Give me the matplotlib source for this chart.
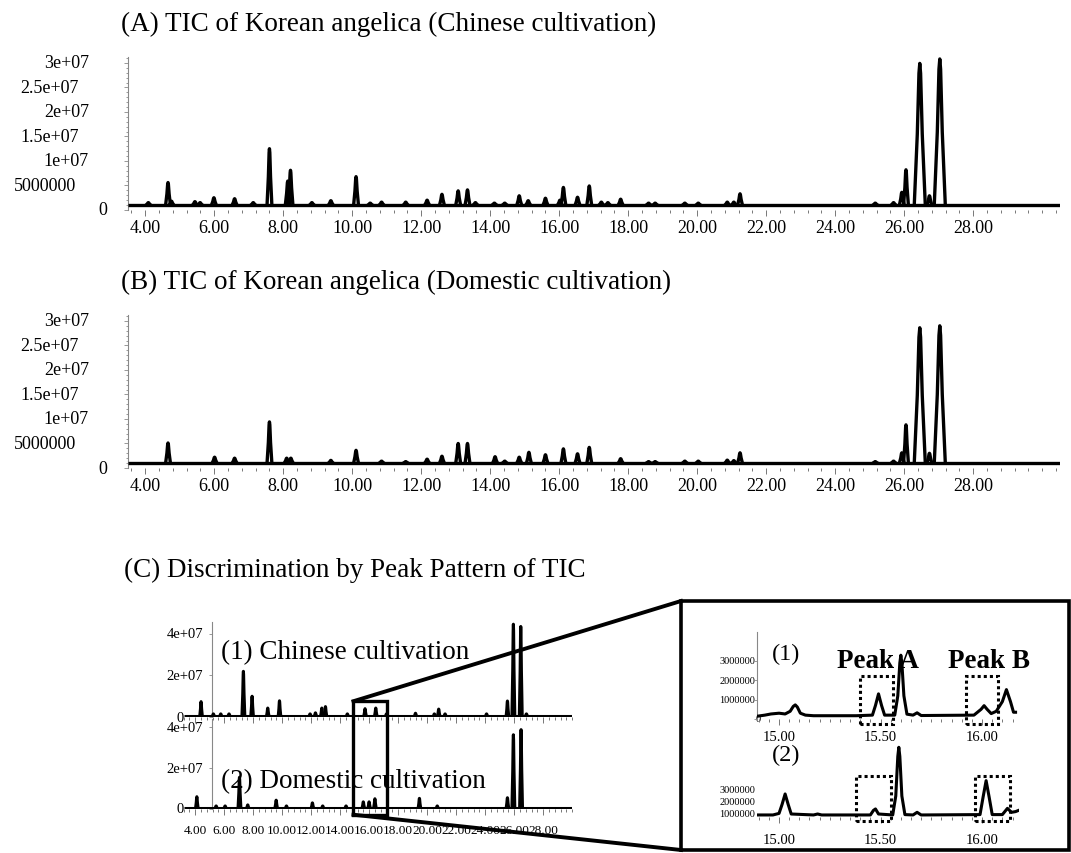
#!/usr/bin/env python
# TIC comparison of Korean angelica, Chinese vs domestic cultivation

import matplotlib
matplotlib.use("Agg")
from matplotlib import pyplot as plt
from matplotlib import transforms
from matplotlib.ticker import FixedLocator, MultipleLocator
from matplotlib.patches import Rectangle
from matplotlib.lines import Line2D

plt.rcParams['font.family'] = ['Liberation Serif', 'DejaVu Serif']

W, H = 1071, 854

# run windows (min)
RUN_AB = (3.5, 30.5)
RUN_C = (3.2, 30.0)

# (A) Chinese cultivation: retention time (min), height (x1e6 counts)
chn_rt = [4.09, 4.66, 4.76, 5.44, 5.59, 5.99, 6.59, 7.13, 7.60, 8.13, 8.21, 8.83, 9.38,
          10.11, 10.52, 10.85, 11.55, 12.17, 12.60, 13.07, 13.34, 13.57, 14.12, 14.42,
          14.84, 15.10, 15.60, 16.02, 16.12, 16.53, 16.87, 17.22, 17.41, 17.78, 18.59,
          18.78, 19.64, 20.03, 20.87, 21.06, 21.24, 25.16, 25.69, 25.93, 26.05, 26.45,
          26.73, 27.03]
chn_h = [1.5, 5.6, 1.8, 1.7, 1.5, 2.5, 2.3, 1.5, 12.5, 5.9, 8.1, 1.5, 1.9,
         6.8, 1.4, 1.6, 1.6, 2.0, 3.2, 3.9, 4.1, 1.5, 1.4, 1.4,
         2.9, 1.9, 2.4, 2.0, 4.6, 2.6, 4.9, 1.6, 1.5, 2.2, 1.4,
         1.4, 1.4, 1.4, 1.6, 1.6, 3.3, 1.4, 1.5, 3.6, 8.2, 29.9,
         2.9, 30.8]
chn_base = 1.0

# (B) Domestic cultivation
dom_rt = [4.66, 6.01, 6.59, 7.60, 8.10, 8.22, 9.38, 10.11, 10.85, 11.55, 12.17, 12.60,
          13.07, 13.34, 14.14, 14.42, 14.84, 15.12, 15.60, 16.12, 16.53, 16.87, 17.78,
          18.59, 18.78, 19.64, 20.03, 20.87, 21.06, 21.24, 25.16, 25.69, 25.93, 26.05,
          26.45, 26.73, 27.03]
dom_h = [5.1, 2.2, 2.0, 9.4, 2.0, 2.0, 1.55, 3.6, 1.4, 1.3, 1.8, 2.4,
         5.0, 5.0, 2.3, 1.4, 2.2, 3.2, 2.7, 3.9, 2.9, 4.2, 1.9,
         1.3, 1.3, 1.4, 1.4, 1.6, 1.5, 3.1, 1.3, 1.4, 3.1, 8.8,
         28.6, 3.0, 29.0]
dom_base = 1.0

# (C) overview traces
c1_rt = [4.41, 5.26, 5.77, 6.34, 7.33, 7.93, 9.01, 9.82, 11.93, 12.30, 12.74, 12.99,
         14.50, 15.72, 16.46, 17.20, 19.20, 20.50, 20.80, 21.24, 24.10, 25.54, 25.95,
         26.46, 26.85]
c1_h = [7.4, 1.5, 1.5, 1.5, 22.0, 10.0, 4.3, 7.8, 1.5, 2.0, 4.3, 5.0,
        1.5, 4.0, 4.3, 1.5, 1.8, 1.5, 3.8, 1.5, 1.5, 7.7, 44.7,
        43.6, 1.5]
c2_rt = [4.12, 5.45, 6.07, 7.06, 7.63, 9.59, 10.30, 12.09, 12.80, 14.41, 15.60, 16.00,
         16.40, 19.47, 20.70, 25.54, 25.95, 26.48]
c2_h = [6.0, 1.5, 1.5, 15.5, 2.0, 4.3, 1.5, 3.0, 1.5, 1.5, 3.5, 3.5,
        5.0, 5.2, 1.5, 5.5, 36.3, 38.8]
c_base = 0.3

# (C) enlarged 14.9-16.2 min (x1e6 counts)
ins1_t = [14.89, 14.93, 14.96, 15.00, 15.03, 15.055, 15.07, 15.08, 15.09, 15.105, 15.13,
          15.17, 15.38, 15.46, 15.475, 15.49, 15.505, 15.52, 15.57, 15.585, 15.595, 15.60,
          15.605, 15.615, 15.63, 15.66, 15.68, 15.70, 15.96, 15.995, 16.01, 16.025, 16.045,
          16.07, 16.10, 16.12, 16.14, 16.155, 16.165]
ins1_i = [0.14, 0.20, 0.26, 0.30, 0.26, 0.40, 0.65, 0.73, 0.62, 0.30, 0.20,
          0.17, 0.17, 0.20, 0.70, 1.30, 0.70, 0.20, 0.20, 1.20, 2.90, 3.30,
          2.90, 1.20, 0.25, 0.20, 0.32, 0.18, 0.20, 0.50, 0.69, 0.50, 0.28,
          0.40, 0.90, 1.52, 0.90, 0.35, 0.35]
ins2_t = [14.89, 14.97, 15.00, 15.015, 15.03, 15.045, 15.06, 15.17, 15.19, 15.21, 15.45,
          15.465, 15.475, 15.49, 15.56, 15.575, 15.585, 15.59, 15.595, 15.605, 15.62,
          15.66, 15.68, 15.70, 15.99, 16.005, 16.02, 16.035, 16.05, 16.10, 16.125, 16.145,
          16.165, 16.18]
ins2_i = [0.92, 0.92, 1.05, 1.80, 2.67, 1.80, 1.00, 0.92, 1.00, 0.92, 0.92,
          1.30, 1.42, 1.00, 0.92, 2.50, 5.80, 6.56, 5.80, 2.50, 0.95,
          0.92, 1.14, 0.92, 0.95, 2.40, 3.78, 2.40, 0.95, 0.95, 1.47, 1.14,
          1.20, 1.30]

zoom_window = (14.92, 17.21)
peak_a_1, peak_b_1 = (15.40, 15.563), (15.92, 16.08)
peak_a_2, peak_b_2 = (15.38, 15.55), (15.965, 16.14)

main_xticks = [4, 6, 8, 10, 12, 14, 16, 18, 20, 22, 24, 26, 28]
ab_yticks = [3e7, 2.5e7, 2e7, 1.5e7, 1e7, 5e6, 0]
ab_ylabels = ["3e+07", "2.5e+07", "2e+07", "1.5e+07", "1e+07", "5000000", "0"]
c_yticks = [4e7, 2e7, 0]
c_ylabels = ["4e+07", "2e+07", "0"]
ins_yticks = [3e6, 2e6, 1e6, 0]
ins_ylabels = ["3000000", "2000000", "1000000", "0"]
ins_xticks = [15.0, 15.5, 16.0]

# peak shape (fraction of half base width, fraction of height)
PROF_X = [-1, -0.45, -0.15, 0, 0.15, 0.45, 1]
PROF_Y = [0, 0.5, 0.93, 1, 0.93, 0.5, 0]


def px_axes(fig, left, top, right, bottom):
	return fig.add_axes([left / W, 1 - bottom / H, (right - left) / W, (bottom - top) / H])


def draw_trace(ax, rt, h, base, run, w_small, w_big, lw):
	ax.plot(run, [base * 1e6, base * 1e6], color="black", lw=lw, zorder=3,
			solid_capstyle="butt")
	for t, hh in zip(rt, h):
		w = w_big if hh > 15 else w_small
		xs = [t + w * p for p in PROF_X]
		ys = [(base + (hh - base) * q) * 1e6 for q in PROF_Y]
		ax.plot(xs, ys, color="black", lw=lw, zorder=3,
				solid_joinstyle="round", solid_capstyle="round")


def ylabels(fig, ax, vals, texts, rights, size):
	tr = transforms.blended_transform_factory(fig.transFigure, ax.transData)
	for v, s, r in zip(vals, texts, rights):
		ax.text(r / W, v, s, transform=tr, ha="right", va="center",
				fontsize=size, clip_on=False, zorder=1)


def style_axes(ax, left_spine=True):
	for s in ["top", "right", "bottom"]:
		ax.spines[s].set_visible(False)
	ax.spines["left"].set_visible(left_spine)
	ax.spines["left"].set_color("#888888")
	ax.spines["left"].set_linewidth(0.8)
	ax.patch.set_visible(False)
	ax.tick_params(axis="y", which="both", labelleft=False, color="#888888", width=0.6)
	ax.tick_params(axis="x", which="both", color="#777777", width=0.7)


fig = plt.figure(figsize=(W / 100.0, H / 100.0), dpi=100)

# ---- (A) and (B)
for (top, bottom), rt, hh, base, title, ty in [
		((58, 211), chn_rt, chn_h, chn_base,
		 "(A) TIC of Korean angelica (Chinese cultivation)", 24),
		((316, 469), dom_rt, dom_h, dom_base,
		 "(B) TIC of Korean angelica (Domestic cultivation)", 282)]:
	ax = px_axes(fig, 128, top, 1059.5, bottom)
	ax.set_xlim(*RUN_AB)
	ax.set_ylim(0, 3.12e7)
	draw_trace(ax, rt, hh, base, RUN_AB, 0.07, 0.16, 2.4)
	style_axes(ax)
	ax.xaxis.set_major_locator(FixedLocator(main_xticks))
	ax.xaxis.set_minor_locator(MultipleLocator(0.4))
	ax.set_xticklabels(["%.2f" % v for v in main_xticks], fontsize=13)
	ax.tick_params(axis="x", which="major", length=4.5, pad=2)
	ax.tick_params(axis="x", which="minor", length=2.5)
	ax.yaxis.set_major_locator(MultipleLocator(5e6))
	ax.yaxis.set_minor_locator(MultipleLocator(1e6))
	ax.tick_params(axis="y", which="major", length=3)
	ax.tick_params(axis="y", which="minor", length=1.8)
	ylabels(fig, ax, ab_yticks, ab_ylabels, [89, 78.5, 89, 78.5, 89, 76, 107], 13)
	fig.text(121 / W, 1 - ty / H, title, fontsize=19.5, va="center", ha="left")

# ---- (C)
fig.text(124 / W, 1 - 570 / H, "(C) Discrimination by Peak Pattern of TIC",
		 fontsize=19.5, va="center", ha="left")

c_axes = []
for (top, bottom), rt, hh, ymax, last in [((622.5, 718), c1_rt, c1_h, 4.6e7, False),
										  ((720, 810), c2_rt, c2_h, 4.4e7, True)]:
	ax = px_axes(fig, 183.5, top, 572.1, bottom)
	ax.set_xlim(*RUN_C)
	ax.set_ylim(0, ymax)
	draw_trace(ax, rt, hh, c_base, RUN_C, 0.09, 0.1, 2.2)
	style_axes(ax)
	ax.spines["left"].set_position(("data", 5.17))
	ax.xaxis.set_major_locator(FixedLocator(main_xticks))
	ax.xaxis.set_minor_locator(MultipleLocator(0.4))
	ax.tick_params(axis="x", which="major", length=4, pad=7)
	ax.tick_params(axis="x", which="minor", length=2.5)
	if last:
		ax.set_xticklabels(["%.2f" % v for v in main_xticks], fontsize=9.5)
	else:
		ax.tick_params(axis="x", labelbottom=False)
	ax.yaxis.set_major_locator(FixedLocator(c_yticks))
	ax.tick_params(axis="y", which="major", length=2.5)
	ylabels(fig, ax, c_yticks, c_ylabels, [203, 203, 184], 10.5)
	c_axes.append(ax)

fig.text(220.7 / W, 1 - 653 / H, "(1) Chinese cultivation", fontsize=19.5, va="center")
fig.text(220.7 / W, 1 - 781.7 / H, "(2) Domestic cultivation", fontsize=19.5, va="center")

# zoom box on the overview, linked to the enlarged frame
to_fig = fig.transFigure.inverted()
bx0, by_top = to_fig.transform(c_axes[0].transData.transform((zoom_window[0], 7.6e6)))
bx1, _ = to_fig.transform(c_axes[0].transData.transform((zoom_window[1], 7.6e6)))
_, by_bot = to_fig.transform(c_axes[1].transData.transform((zoom_window[0], -2.8e6)))
fig.patches.append(Rectangle((bx0, by_bot), bx1 - bx0, by_top - by_bot, fill=False,
							 lw=2.4, ec="black", transform=fig.transFigure, zorder=5))

fx0, fx1, fy_top, fy_bot = 681 / W, 1069 / W, 1 - 602 / H, 1 - 851 / H
fig.patches.append(Rectangle((fx0, fy_bot), fx1 - fx0, fy_top - fy_bot, fill=False,
							 lw=2.6, ec="black", transform=fig.transFigure, zorder=5))
fig.lines.append(Line2D([bx0, fx0], [by_top, fy_top], color="black", lw=2.8,
						transform=fig.transFigure, zorder=5))
fig.lines.append(Line2D([bx0, fx0], [by_bot, fy_bot], color="black", lw=2.8,
						transform=fig.transFigure, zorder=5))

# enlarged traces
for (top, bottom), tt, ii, ylim, spine, boxes, tag, pad, box_y in [
		((633, 720), ins1_t, ins1_i, (0, 4.5e6), True, (peak_a_1, peak_b_1), "(1)", 4,
		 (-0.26e6, 2.24e6)),
		((745.4, 818), ins2_t, ins2_i, (0.75e6, 6.8e6), False, (peak_a_2, peak_b_2), "(2)", 7.5,
		 (0.45e6, 4.19e6))]:
	ax = px_axes(fig, 756.7, top, 1018.6, bottom)
	ax.set_xlim(14.89, 16.18)
	ax.set_ylim(*ylim)
	ax.plot(tt, [v * 1e6 for v in ii], color="black", lw=2.2, zorder=3,
			solid_joinstyle="round")
	style_axes(ax, spine)
	ax.xaxis.set_major_locator(FixedLocator(ins_xticks))
	ax.xaxis.set_minor_locator(MultipleLocator(0.05))
	ax.set_xticklabels(["%.2f" % v for v in ins_xticks], fontsize=10.5)
	ax.tick_params(axis="x", which="major", length=4, pad=pad)
	ax.tick_params(axis="x", which="minor", length=2.5)
	ax.yaxis.set_major_locator(FixedLocator(ins_yticks if spine else []))
	ax.tick_params(axis="y", which="major", length=2)
	vals = [v for v in ins_yticks if v >= ylim[0]]
	labs = [l for v, l in zip(ins_yticks, ins_ylabels) if v >= ylim[0]]
	ylabels(fig, ax, vals, labs, [755] * 3 + [761], 7.5)
	for x0, x1 in boxes:
		ax.add_patch(Rectangle((x0, box_y[0]), x1 - x0, box_y[1] - box_y[0], fill=False,
							   lw=2.2, ls=(0, (1, 1)), ec="black", clip_on=False, zorder=4))
	ax.text(14.965, 3.4e6 if spine else 6.0e6, tag, fontsize=17.5,
			va="center", ha="left")
	if spine:
		ax.text(15.284, 3.02e6, "Peak A", fontsize=19.5, fontweight="bold", va="center")
		ax.text(15.83, 3.02e6, "Peak B", fontsize=19.5, fontweight="bold", va="center")

fig.savefig("out.png", dpi=100)
